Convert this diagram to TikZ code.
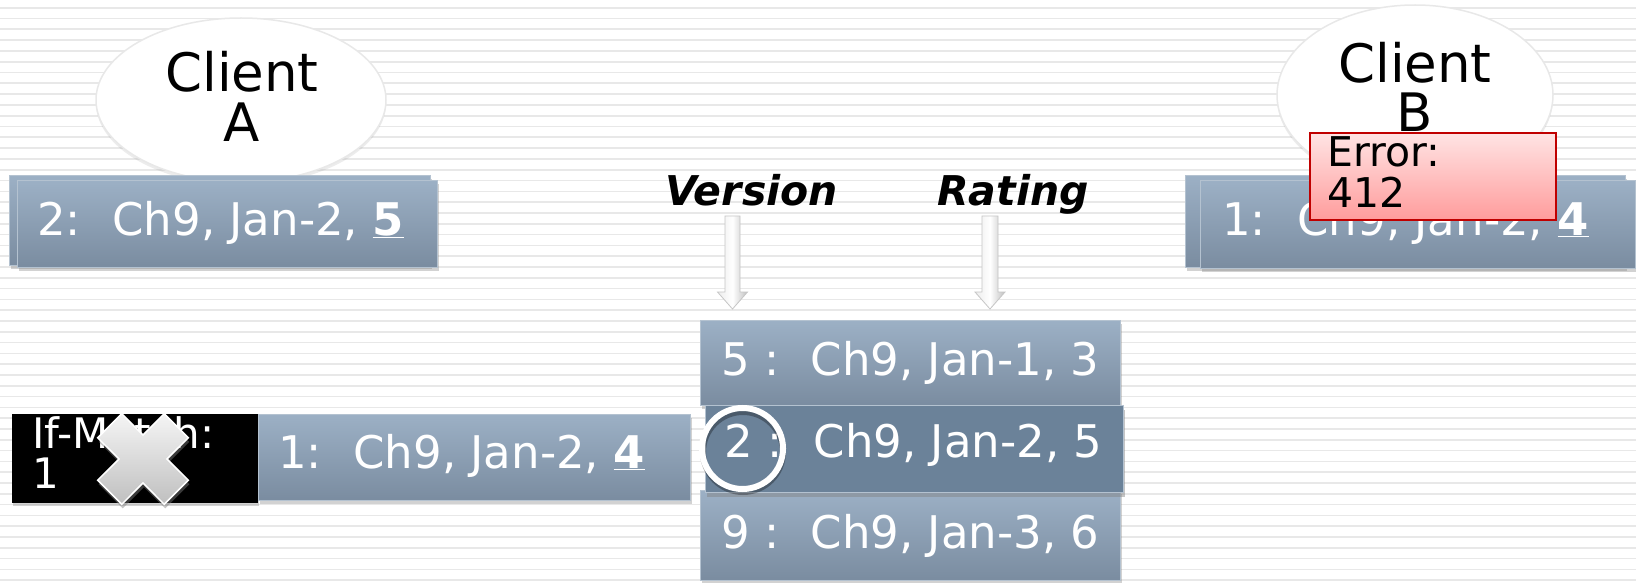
\documentclass[tikz,border=0pt]{standalone}
\usepackage{fontspec}
\setmainfont{DejaVu Sans}
\usetikzlibrary{shapes.geometric,shadows}
\definecolor{boxtop}{HTML}{9CB0C5}
\definecolor{boxbot}{HTML}{7A8CA0}
\definecolor{boxedge}{HTML}{B4C2D0}
\definecolor{rowhi}{HTML}{6B8299}
\definecolor{stripecol}{HTML}{E8E8E8}
\definecolor{errtop}{HTML}{FFE4E4}
\definecolor{errbot}{HTML}{FF9C9C}
\definecolor{errline}{HTML}{C00000}
\tikzset{
  bluebox/.style={draw=boxedge, line width=1pt, top color=boxtop, bottom color=boxbot,
    inner sep=0pt, anchor=north west,
    drop shadow={shadow xshift=1pt, shadow yshift=-3pt, opacity=0.35}},
  hibox/.style={draw=boxedge, line width=1.2pt, fill=rowhi, inner sep=0pt, anchor=north west,
    drop shadow={shadow xshift=1pt, shadow yshift=-4pt, opacity=0.45}},
  blackbox/.style={fill=black, inner sep=0pt, anchor=north west,
    drop shadow={shadow xshift=1pt, shadow yshift=-3pt, opacity=0.35}},
  errbox/.style={draw=errline, line width=1.6pt, top color=errtop, bottom color=errbot,
    inner sep=0pt, anchor=north west},
  clientell/.style={ellipse, draw=gray!18, line width=1.5pt, fill=white, inner sep=0pt,
    drop shadow={shadow xshift=0pt, shadow yshift=-3pt, opacity=0.15}},
  wtxt/.style={text=white, font=\fontsize{45}{45}\selectfont, anchor=base west, inner sep=0pt},
  ktxt/.style={text=black, inner sep=0pt},
  lbl/.style={text=black, font=\fontsize{41}{41}\selectfont\bfseries\itshape, anchor=base west, inner sep=0pt},
  fatarrow/.style={draw=gray!45, line width=0.8pt, left color=gray!15, right color=gray!50, middle color=white},
  xmark/.style={draw=white, line width=1.5pt, top color=gray!8, bottom color=gray!50,
    drop shadow={shadow xshift=1pt, shadow yshift=-4pt, opacity=0.45}},
}
\begin{document}
\begin{tikzpicture}[x=1pt, y=-1pt]
\useasboundingbox (0,0) rectangle (1636,583);
\fill[white] (0,0) rectangle (1636,583);
\foreach \k in {0,...,53} { \fill[stripecol] (0,{6.9+\k*10.8}) rectangle (1636,{8.6+\k*10.8}); }

% Client A
\node[clientell, minimum width=290pt, minimum height=164pt] (cA) at (241,100) {};
\node[ktxt, align=center, font=\fontsize{53}{50}\selectfont, anchor=base] (cAt) at (242,142) {Client\\A};
\node[bluebox, minimum width=421pt, minimum height=90pt] (boxAback) at (9,175) {};
\node[bluebox, minimum width=420pt, minimum height=87pt] (boxA) at (17,180) {};
\node[wtxt] (boxAt) at (37,235) {2:\hspace{0.7em}Ch9, Jan-2, \underline{\textbf{5}}};

% Client B
\node[clientell, minimum width=276pt, minimum height=180pt] (cB) at (1415,95) {};
\node[ktxt, align=center, font=\fontsize{53}{49}\selectfont, anchor=base] (cBt) at (1415,132) {Client\\B};
\node[bluebox, minimum width=440pt, minimum height=92pt] (boxBback) at (1185,175) {};
\node[bluebox, minimum width=435pt, minimum height=88pt] (boxB) at (1200,180) {};
\node[wtxt] (boxBt) at (1222,235) {1:\hspace{0.7em}Ch9, Jan-2, \underline{\textbf{4}}};
\node[errbox, minimum width=246pt, minimum height=87pt] (err) at (1309,132) {};
\node[ktxt, align=left, font=\fontsize{41}{40}\selectfont, anchor=base west] (errt) at (1327,207) {Error:\\412};

% labels and arrows
\node[lbl] (ver) at (665,205) {Version};
\node[lbl] (rat) at (937,205) {Rating};
\coordinate (vtop) at (732.5,216);
\coordinate (vtip) at (732.5,309);
\coordinate (rtop) at (990,216);
\coordinate (rtip) at (990,309);
\path[fatarrow] ([xshift=-7.5pt]vtop) -- ([xshift=-7.5pt,yshift=17pt]vtip) -- ([xshift=-15pt,yshift=17pt]vtip) -- (vtip)
  -- ([xshift=15pt,yshift=17pt]vtip) -- ([xshift=7.5pt,yshift=17pt]vtip) -- ([xshift=7.5pt]vtop) -- cycle;
\path[fatarrow] ([xshift=-8pt]rtop) -- ([xshift=-8pt,yshift=17pt]rtip) -- ([xshift=-15pt,yshift=17pt]rtip) -- (rtip)
  -- ([xshift=15pt,yshift=17pt]rtip) -- ([xshift=8pt,yshift=17pt]rtip) -- ([xshift=8pt]rtop) -- cycle;

% table
\node[bluebox, minimum width=420pt, minimum height=85pt] (row1) at (700,320) {};
\node[bluebox, minimum width=420pt, minimum height=90pt] (row3) at (700,490) {};
\node[hibox, minimum width=418pt, minimum height=87pt] (row2) at (705,405) {};
\node[wtxt] (row1t) at (721,375) {5 :\hspace{0.7em}Ch9, Jan-1, 3};
\node[wtxt] (row2t) at (724,457) {2 :\hspace{0.7em}Ch9, Jan-2, 5};
\node[wtxt] (row3t) at (721,548) {9 :\hspace{0.7em}Ch9, Jan-3, 6};
\draw[black, opacity=0.3, line width=6pt] (743,452) circle (40);
\node[circle, draw=white, line width=6pt, minimum size=81pt, inner sep=0pt] (ring) at (742.5,448.5) {};

% left request
\node[blackbox, minimum width=246pt, minimum height=89pt] (ifm) at (12,414) {};
\node[ktxt, text=white, align=left, font=\fontsize{42}{40}\selectfont, anchor=base west] (ifmt) at (32,488) {If-Match:\\1};
\node[bluebox, minimum width=432pt, minimum height=86pt] (req) at (258,414) {};
\node[wtxt] (reqt) at (278,468) {1:\hspace{0.7em}Ch9, Jan-2, \underline{\textbf{4}}};

% cross
\begin{scope}[shift={(143,459)}]
\path[xmark] (-45.3,21.2) -- (-21.2,45.3) -- (0,24) -- (21.2,45.3) -- (45.3,21.2) -- (24,0)
  -- (45.3,-21.2) -- (21.2,-45.3) -- (0,-24) -- (-21.2,-45.3) -- (-45.3,-21.2) -- (-24,0) -- cycle;
\end{scope}
\end{tikzpicture}
\end{document}
